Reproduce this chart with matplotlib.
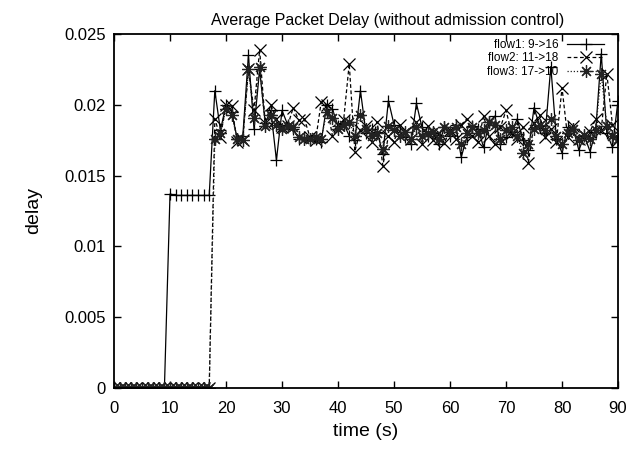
import numpy as np
import matplotlib
matplotlib.use("Agg")
import matplotlib.pyplot as plt

plt.rcParams['font.family'] = ['Liberation Sans', 'DejaVu Sans']

# time axis, one sample per second
t = np.arange(0, 91)

# flow1: zero until 9 s, flat step until 17 s, then noisy
flow1_start = [0.0] * 10 + [0.0137, 0.0136, 0.0136, 0.0136, 0.0136, 0.0136, 0.0136, 0.0136]
flow1_rest = [
    0.0210, 0.0182, 0.0200, 0.0195, 0.0176, 0.0178, 0.0235, 0.0183, 0.0225, 0.0187,
    0.0196, 0.0161, 0.0196, 0.0186, 0.0183, 0.0176, 0.0177, 0.0175, 0.0176, 0.0174,
    0.0200, 0.0197, 0.0185, 0.0187, 0.0178, 0.0175, 0.0210, 0.0180, 0.0183, 0.0181,
    0.0165, 0.0203, 0.0186, 0.0181, 0.0177, 0.0172, 0.0201, 0.0184, 0.0178, 0.0180,
    0.0172, 0.0184, 0.0178, 0.0186, 0.0163, 0.0177, 0.0185, 0.0183, 0.0170, 0.0188,
    0.0192, 0.0172, 0.0177, 0.0181, 0.0190, 0.0175, 0.0168, 0.0198, 0.0185, 0.0180,
    0.0227, 0.0176, 0.0166, 0.0184, 0.0183, 0.0168, 0.0178, 0.0167, 0.0181, 0.0236,
    0.0180, 0.0170, 0.0203,
]
flow2_rest = [
    0.0190, 0.0177, 0.0200, 0.0199, 0.0174, 0.0175, 0.0225, 0.0196, 0.0239, 0.0187,
    0.0200, 0.0190, 0.0184, 0.0185, 0.0198, 0.0189, 0.0190, 0.0177, 0.0175, 0.0202,
    0.0200, 0.0178, 0.0186, 0.0189, 0.0229, 0.0167, 0.0182, 0.0185, 0.0174, 0.0188,
    0.0157, 0.0178, 0.0174, 0.0186, 0.0180, 0.0176, 0.0188, 0.0172, 0.0185, 0.0175,
    0.0180, 0.0173, 0.0182, 0.0176, 0.0186, 0.0190, 0.0178, 0.0174, 0.0192, 0.0178,
    0.0172, 0.0184, 0.0196, 0.0180, 0.0176, 0.0184, 0.0159, 0.0187, 0.0193, 0.0177,
    0.0183, 0.0174, 0.0212, 0.0177, 0.0185, 0.0176, 0.0179, 0.0181, 0.0190, 0.0182,
    0.0222, 0.0186, 0.0175,
]
flow3_rest = [
    0.0176, 0.0180, 0.0197, 0.0193, 0.0176, 0.0175, 0.0225, 0.0191, 0.0227, 0.0185,
    0.0193, 0.0186, 0.0183, 0.0185, 0.0184, 0.0177, 0.0176, 0.0176, 0.0177, 0.0176,
    0.0195, 0.0191, 0.0183, 0.0186, 0.0188, 0.0178, 0.0193, 0.0183, 0.0178, 0.0180,
    0.0169, 0.0185, 0.0182, 0.0178, 0.0181, 0.0176, 0.0184, 0.0178, 0.0180, 0.0181,
    0.0176, 0.0184, 0.0181, 0.0184, 0.0172, 0.0180, 0.0184, 0.0180, 0.0182, 0.0188,
    0.0186, 0.0176, 0.0182, 0.0184, 0.0178, 0.0166, 0.0172, 0.0183, 0.0186, 0.0182,
    0.0190, 0.0178, 0.0172, 0.0180, 0.0183, 0.0175, 0.0179, 0.0176, 0.0182, 0.0222,
    0.0185, 0.0178, 0.0176,
]

flow1 = flow1_start + flow1_rest
flow2 = [0.0] * 18 + flow2_rest
flow3 = [0.0] * 18 + flow3_rest

labels = ["flow1: 9->16", "flow2: 11->18", "flow3: 17->10"]

fig = plt.figure(figsize=(6.32, 4.5), dpi=100)
ax = fig.add_axes([0.1804, 0.1378, 0.7975, 0.7867])

ax.plot(t, flow1, color='black', lw=0.9, ls='-', marker='+', ms=9, mew=0.9, label=labels[0])
ax.plot(t, flow2, color='black', lw=0.9, ls=(0, (3, 2)), marker='x', ms=8, mew=0.9, label=labels[1])
ax.plot(t, flow3, color='#222222', lw=0.9, ls=(0, (1, 1.5)), marker=(8, 2, 0), ms=9, mew=0.9, label=labels[2])

ax.set_xlim(0, 90)
ax.set_ylim(0, 0.025)
ax.set_xticks(np.arange(0, 91, 10))
ax.set_yticks([0, 0.005, 0.01, 0.015, 0.02, 0.025])
ax.set_yticklabels(["0", "0.005", "0.01", "0.015", "0.02", "0.025"])
ax.tick_params(direction='in', top=True, right=True, length=5, width=1, labelsize=12)
ax.tick_params(axis='y', pad=6)
ax.tick_params(axis='x', pad=9.5)
for s in ax.spines.values():
    s.set_linewidth(1.3)

ax.set_xlabel("time (s)", fontsize=14, labelpad=5)
ax.set_ylabel("delay", fontsize=14, labelpad=16)
fig.text(388 / 632, 1 - 20 / 450, "Average Packet Delay (without admission control)",
         fontsize=11.5, ha='center', va='center')

ax.legend(loc='upper right', bbox_to_anchor=(0.972, 0.985), frameon=False, fontsize=8.5,
          markerfirst=False, handlelength=3.1, labelspacing=0.1, borderpad=0,
          borderaxespad=0, handletextpad=0.75)

fig.savefig("out.png", dpi=100)
